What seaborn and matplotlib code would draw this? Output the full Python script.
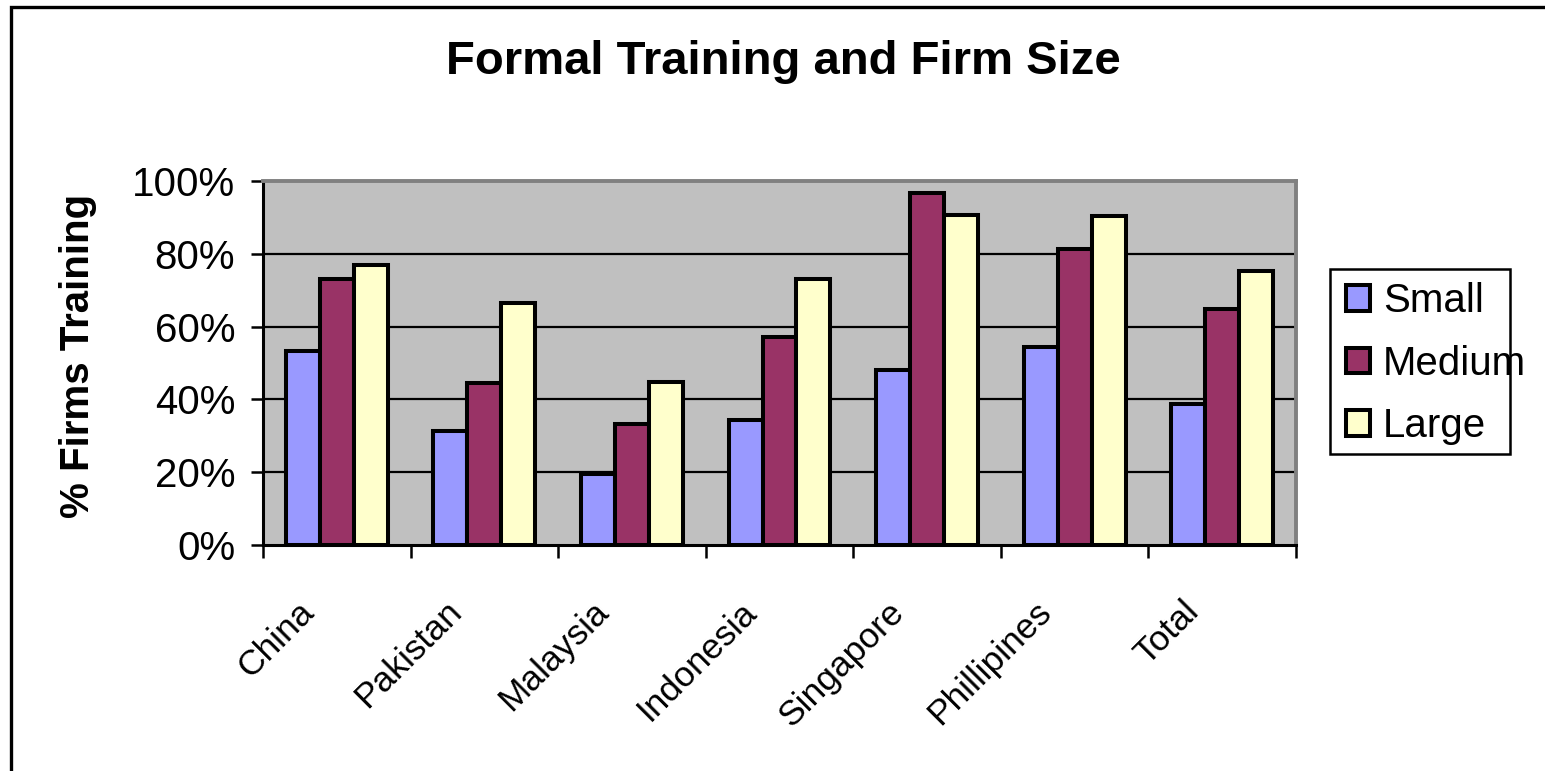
import matplotlib
matplotlib.use("Agg")
import matplotlib.pyplot as plt
import matplotlib.transforms as mtransforms
from matplotlib.patches import Rectangle, Patch
from matplotlib.ticker import FixedLocator, FuncFormatter, NullFormatter
import seaborn as sns
import pandas as pd

countries = ["China", "Pakistan", "Malaysia", "Indonesia", "Singapore", "Phillipines", "Total"]
sizes = ["Small", "Medium", "Large"]
small = [0.532, 0.312, 0.196, 0.344, 0.482, 0.543, 0.386]
medium = [0.731, 0.444, 0.332, 0.571, 0.968, 0.812, 0.649]
large = [0.769, 0.665, 0.449, 0.731, 0.907, 0.903, 0.753]
colors = ["#9999FF", "#993366", "#FFFFCC"]

df = pd.DataFrame({
    "Country": countries * 3,
    "Size": ["Small"] * 7 + ["Medium"] * 7 + ["Large"] * 7,
    "Share": small + medium + large,
})

sns.set_theme(style="white")
plt.rcParams["font.family"] = ["Liberation Sans", "DejaVu Sans"]
plt.rcParams["text.color"] = "black"
plt.rcParams["xtick.color"] = "black"
plt.rcParams["ytick.color"] = "black"

W, H = 1545, 771
fig = plt.figure(figsize=(W / 100, H / 100), dpi=100)
fig.patch.set_facecolor("white")
ax = fig.add_axes([263 / W, 1 - 545 / H, (1296 - 263) / W, (545 - 181) / H])
ax.set_facecolor("#C0C0C0")

sns.barplot(data=df, x="Country", y="Share", hue="Size", hue_order=sizes,
            order=countries, palette=colors, saturation=1, width=0.69, gap=0,
            edgecolor="black", linewidth=2.9, legend=False, ax=ax, zorder=3)

ax.set_xlim(-0.5, 6.5)
ax.set_ylim(0, 1.0)

# horizontal gridlines
for v in [0.2, 0.4, 0.6, 0.8]:
    ax.axhline(v, color="black", lw=1.6, zorder=1)

# spines
for side in ["left", "bottom"]:
    ax.spines[side].set_color("black")
    ax.spines[side].set_linewidth(2.2)
for side in ["top", "right"]:
    ax.spines[side].set_color("#808080")
    ax.spines[side].set_linewidth(2.8)
    ax.spines[side].set_visible(True)

# y axis
ax.yaxis.set_major_locator(FixedLocator([0, 0.2, 0.4, 0.6, 0.8, 1.0]))
ax.yaxis.set_major_formatter(FuncFormatter(lambda v, p: f"{v:.0%}"))
ax.tick_params(axis="y", which="major", direction="out", length=9, width=1.8,
               color="black", labelsize=29, pad=11, left=True, labelcolor="black")

# x axis: ticks at category boundaries, labels at category centers
ax.xaxis.set_major_locator(FixedLocator([i - 0.5 for i in range(8)]))
ax.xaxis.set_major_formatter(NullFormatter())
ax.set_xticks(range(7), minor=True)
ax.set_xticklabels(countries, minor=True)
ax.tick_params(axis="x", which="major", direction="out", length=9, width=1.8,
               color="black", bottom=True)
ax.tick_params(axis="x", which="minor", length=0, labelsize=25.5, pad=36,
               labelcolor="black")
offset = mtransforms.ScaledTranslation(-40 / 100, 0, fig.dpi_scale_trans)
for lbl in ax.get_xticklabels(minor=True):
    lbl.set_rotation(45)
    lbl.set_rotation_mode("anchor")
    lbl.set_ha("right")
    lbl.set_va("top")
    lbl.set_transform(lbl.get_transform() + offset)

ax.set_xlabel("")
ax.set_ylabel("")
fig.text(78 / W, 1 - 356 / H, "% Firms Training", rotation=90, fontsize=29,
         fontweight="bold", ha="center", va="center", color="black")

fig.text(783 / W, 1 - 62 / H, "Formal Training and Firm Size", fontsize=34,
         fontweight="bold", ha="center", va="center", color="black")

# legend entries, with the frame drawn separately
handles = [Patch(facecolor=c, edgecolor="black", linewidth=2.9) for c in colors]
leg = fig.legend(handles, sizes, loc="upper left",
                 bbox_to_anchor=(1346 / W, 1 - 282 / H), fontsize=29,
                 frameon=False, handlelength=0.6, handleheight=0.6,
                 handletextpad=0.32, labelspacing=0.61, borderpad=0,
                 borderaxespad=0)
for t in leg.get_texts():
    t.set_color("black")
fig.patches.append(Rectangle((1330 / W, 1 - 454 / H), 180 / W, 185 / H,
                             transform=fig.transFigure, fill=False,
                             edgecolor="black", linewidth=1.8))

# outer chart frame (top and left edges visible)
fig.patches.append(Rectangle((11 / W, -0.1), 1.2, 0.1 + 1 - 7 / H,
                             transform=fig.transFigure, fill=False,
                             edgecolor="black", linewidth=2.4))

fig.savefig("out.png", dpi=100)
